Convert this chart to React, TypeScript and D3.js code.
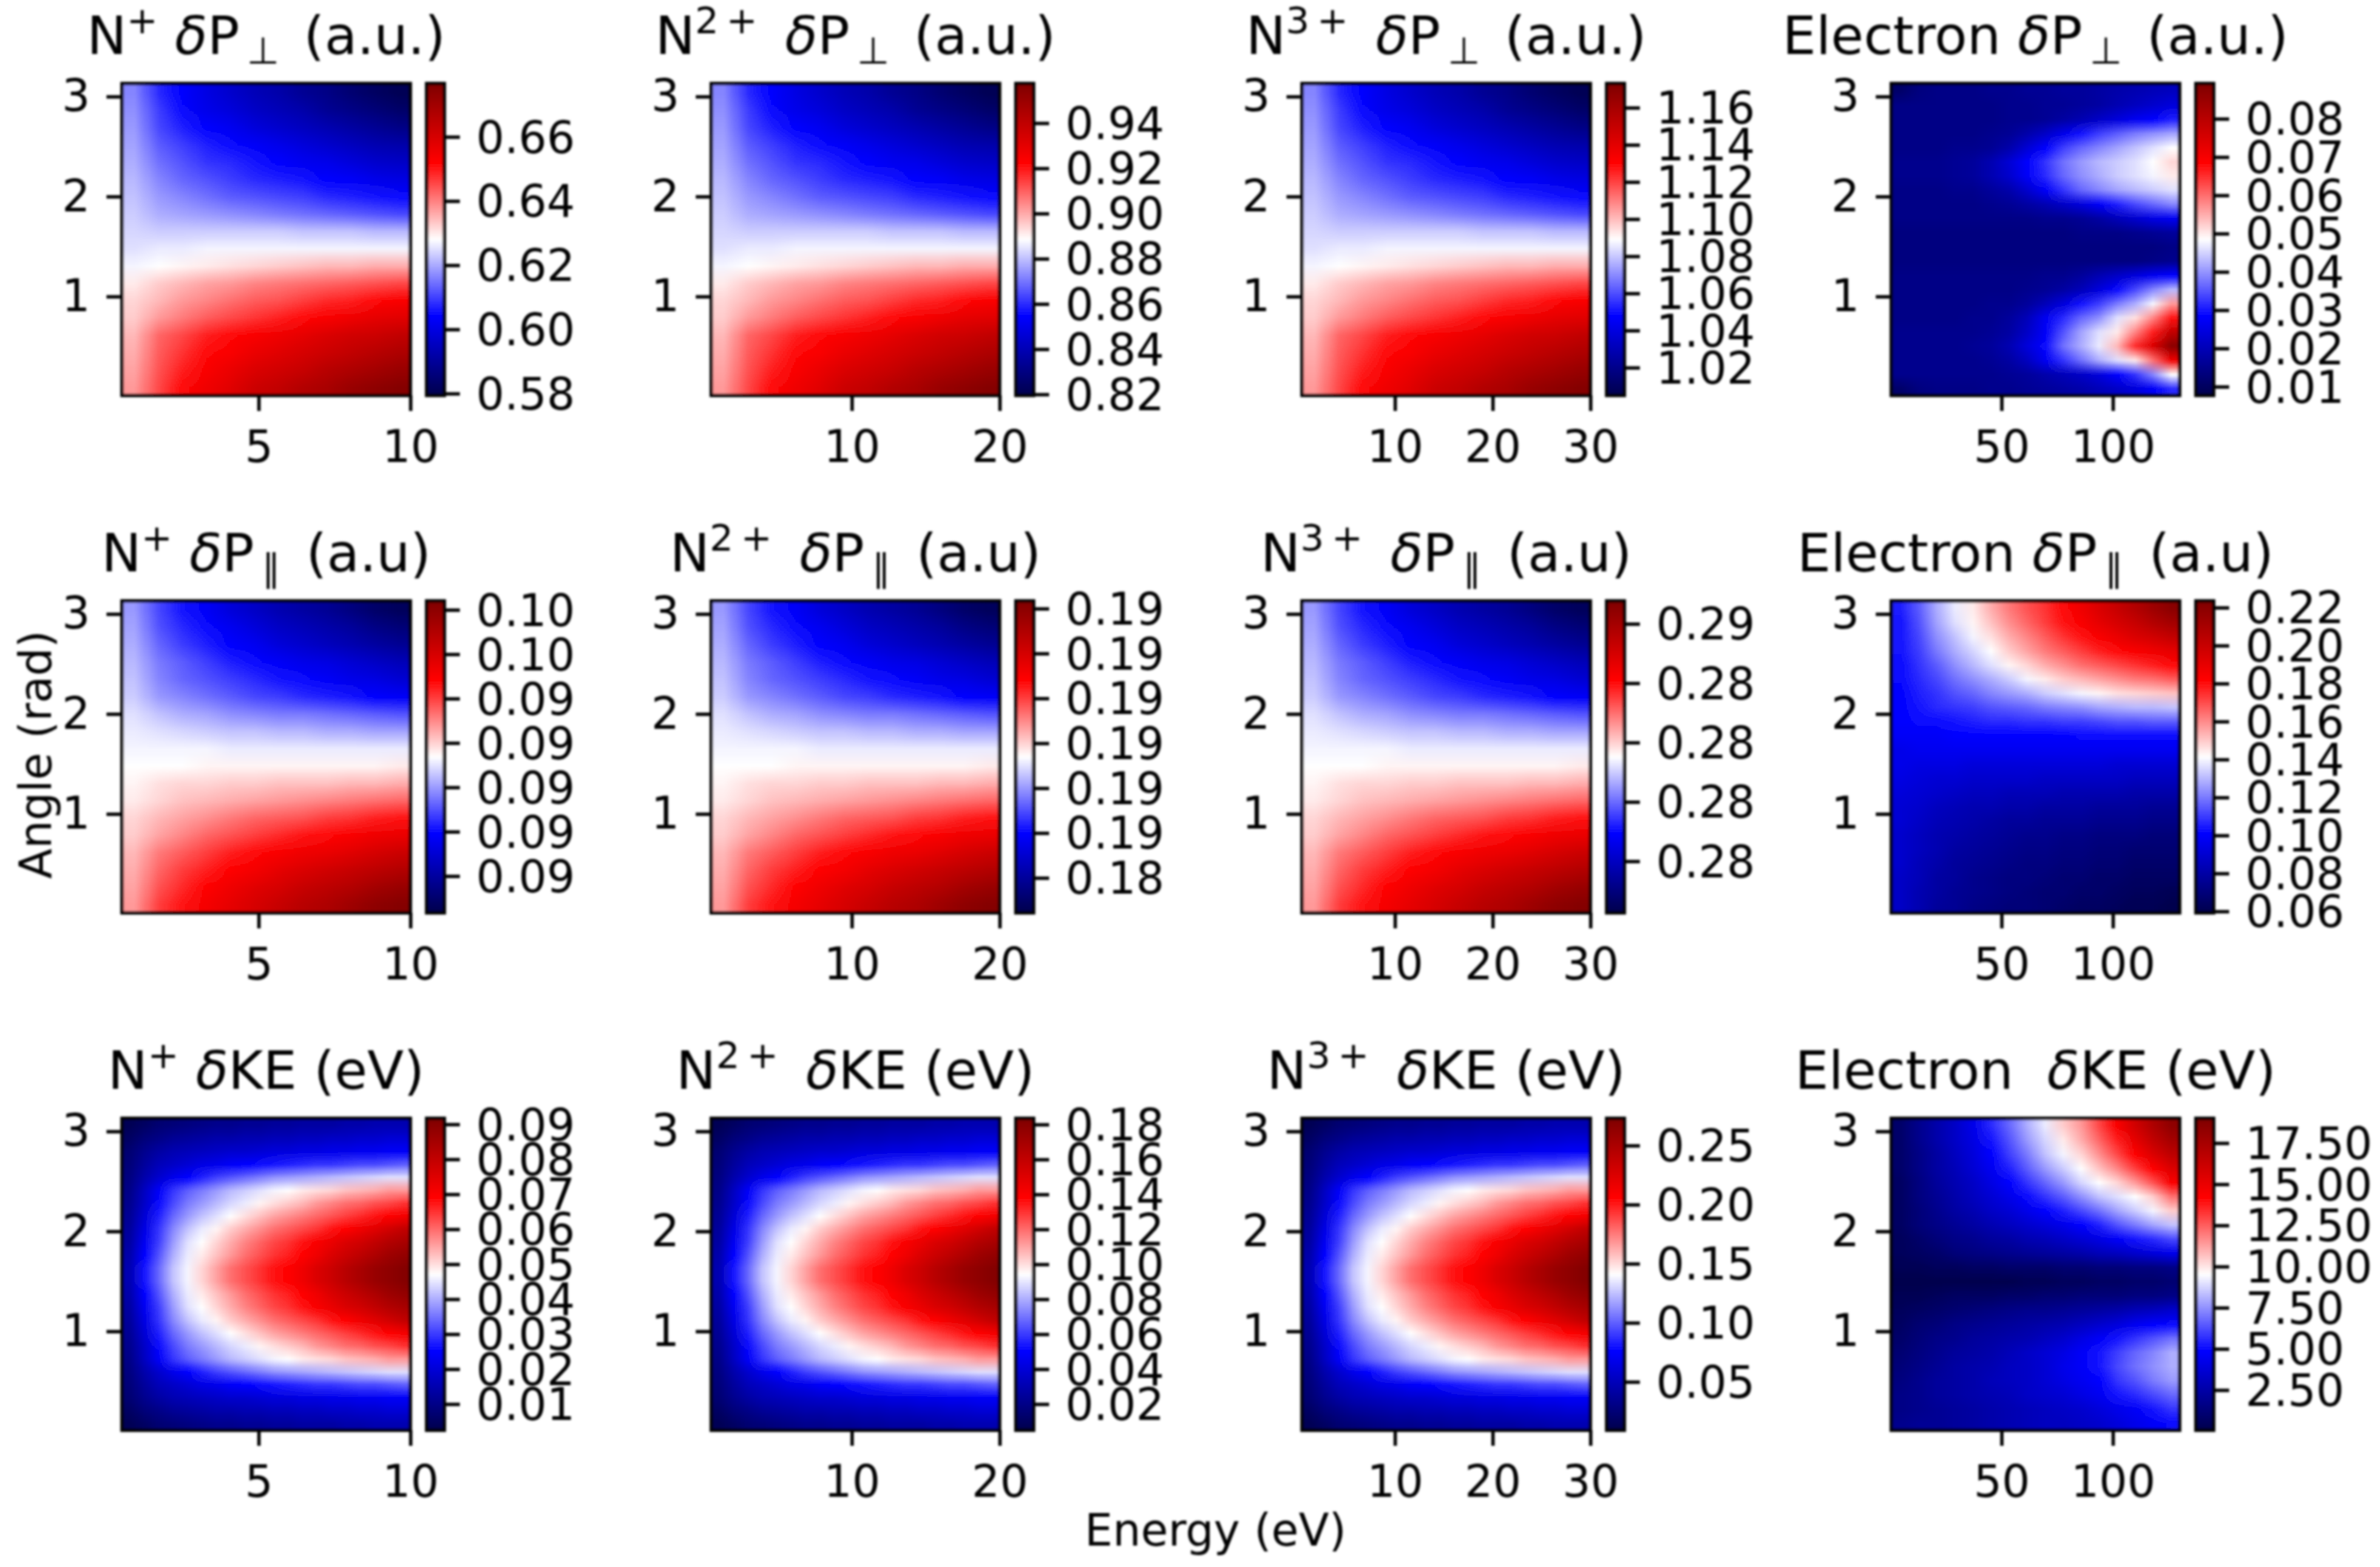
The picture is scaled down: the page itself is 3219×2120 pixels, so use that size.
import React, { useEffect, useRef } from "react";
import * as d3 from "d3";

// Colour position of each cell, in percent of that panel's colourbar range.
// Rows run from the top of the panel (angle ~ pi) to the bottom (angle ~ 0), columns from low to high energy.
const ionPerp = [
[38,29,25,21,18,15,13,10,8,5,3,1],
[39,31,26,22,20,17,15,13,10,8,6,4],
[40,32,28,25,23,20,18,16,14,12,10,8],
[41,34,31,28,26,24,22,20,18,16,14,13],
[42,36,33,30,29,27,25,23,22,20,18,17],
[43,38,35,33,31,29,28,27,25,24,22,21],
[44,40,38,36,34,33,32,31,29,28,27,26],
[45,42,41,40,39,38,37,36,35,34,33,32],
[46,45,45,45,45,45,45,44,44,44,43,43],
[47,48,48,49,49,49,49,49,49,49,49,49],
[49,50,51,52,53,54,55,56,57,57,58,58],
[52,55,57,59,60,62,63,64,65,66,67,68],
[54,57,60,62,64,66,67,69,71,72,74,76],
[55,60,63,66,68,70,72,74,76,78,80,81],
[57,65,68,72,74,76,78,80,82,84,85,87],
[58,66,70,74,76,79,81,83,85,87,89,91],
[59,67,72,76,79,82,84,86,89,91,93,95],
[60,68,74,78,81,85,87,90,92,95,97,99],
];
const ionPara = [
[40,32,27,24,20,17,14,12,10,7,4,2],
[41,33,29,26,23,20,17,15,13,11,8,6],
[42,35,31,28,25,23,20,18,16,14,12,10],
[43,37,34,31,28,26,24,22,21,19,17,15],
[44,38,35,33,31,29,27,26,24,22,21,19],
[45,40,38,36,34,32,31,29,28,27,25,24],
[47,44,42,41,39,38,37,37,36,35,34,33],
[48,47,46,45,44,44,43,43,42,42,41,41],
[49,49,49,49,48,48,48,48,48,48,48,48],
[50,50,50,51,51,51,51,51,51,51,51,52],
[51,53,54,54,55,55,56,56,56,57,57,58],
[52,54,56,57,58,59,60,61,62,63,64,65],
[54,57,59,61,63,65,66,67,69,70,72,73],
[55,59,62,65,67,69,71,73,74,76,78,79],
[57,63,66,69,72,74,76,78,79,81,83,85],
[58,65,69,72,75,77,80,82,84,86,88,90],
[59,67,71,75,78,81,83,86,88,90,93,95],
[60,69,73,77,80,83,86,89,91,94,97,99],
];
const ionKE = [
[1,3,5,6,7,8,9,9,10,10,11,11,12,12,12,13,13,14,14,14],
[3,6,8,10,11,12,13,13,14,14,15,15,16,16,17,17,18,18,19,19],
[5,9,12,14,15,16,17,18,18,19,20,20,21,21,22,22,23,23,24,24],
[6,11,15,17,19,21,22,24,25,26,27,28,29,30,30,31,32,32,33,34],
[7,13,18,22,25,28,31,33,35,37,39,40,41,42,43,44,45,46,47,47],
[8,16,24,30,34,37,40,43,45,47,49,50,52,53,54,56,57,58,60,60],
[9,17,26,32,37,40,43,46,48,51,53,55,57,60,62,64,65,67,68,70],
[10,19,28,35,40,44,47,50,53,56,59,61,63,65,67,69,71,73,75,77],
[11,21,30,38,44,48,51,55,58,61,64,66,68,70,73,75,78,81,84,87],
[12,23,31,40,47,50,54,58,62,65,68,70,73,76,79,82,84,87,90,92],
[13,25,33,42,48,52,56,60,64,67,70,72,75,78,82,85,88,91,94,96],
[14,27,35,44,49,54,59,64,67,70,73,75,78,82,85,89,92,95,97,99],
[14,27,35,44,49,54,59,64,67,70,73,75,78,82,85,89,92,95,97,99],
[13,25,33,42,48,52,56,60,64,67,70,72,75,78,82,85,88,91,94,96],
[12,23,31,40,47,50,54,58,62,65,68,70,73,76,79,82,84,87,90,92],
[11,21,30,38,44,48,51,55,58,61,64,66,68,70,73,75,78,81,84,87],
[10,19,28,35,40,44,47,50,53,56,59,61,63,65,67,69,71,73,75,77],
[9,17,26,32,37,40,43,46,48,51,53,55,57,60,62,64,65,67,68,70],
[8,16,24,30,34,37,40,43,45,47,49,50,52,53,54,56,57,58,60,60],
[7,13,18,22,25,28,31,33,35,37,39,40,41,42,43,44,45,46,47,47],
[6,11,15,17,19,21,22,24,25,26,27,28,29,30,30,31,32,32,33,34],
[5,9,12,14,15,16,17,18,18,19,20,20,21,21,22,22,23,23,24,24],
[3,6,8,10,11,12,13,13,14,14,15,15,16,16,17,17,18,18,19,19],
[1,3,5,6,7,8,9,9,10,10,11,11,12,12,12,13,13,14,14,14],
];
const electronPerp = [
[4,7,8,8,8,9,9,10,10,11,11,12,13,14,15,16],
[8,8,8,8,8,8,9,9,10,10,11,12,14,16,18,20],
[8,8,8,8,8,8,9,9,10,12,14,17,20,23,25,28],
[8,8,8,8,8,9,10,13,17,22,27,31,34,37,39,41],
[8,8,8,9,9,10,13,19,25,31,35,38,41,44,47,50],
[9,9,9,10,11,14,19,25,30,36,40,43,45,47,50,54],
[9,9,9,10,11,14,18,24,29,35,39,42,45,47,49,52],
[8,8,8,9,9,11,13,18,24,30,35,38,41,43,45,47],
[8,8,8,8,8,9,10,12,14,17,20,24,28,32,35,38],
[8,8,8,8,8,8,8,8,9,9,10,12,15,18,21,23],
[7,7,7,7,7,7,7,7,7,7,8,8,8,9,10,11],
[7,7,7,7,7,7,7,7,7,7,7,7,7,7,7,8],
[7,7,7,7,7,7,7,7,7,7,7,7,7,7,8,9],
[8,8,8,8,8,8,8,8,9,9,11,14,17,20,23,25],
[8,8,8,8,8,8,8,9,10,12,15,20,26,32,38,43],
[8,8,8,8,8,9,9,11,15,20,27,31,37,42,49,60],
[8,8,8,8,9,9,11,15,23,29,35,39,47,53,62,73],
[9,9,9,9,9,10,12,17,24,33,41,47,52,62,72,87],
[9,9,9,9,10,11,14,20,26,36,42,48,57,71,82,98],
[9,9,9,9,9,10,12,16,23,30,36,42,47,52,64,78],
[9,9,9,9,9,9,10,11,13,15,17,20,25,30,38,50],
[4,7,8,8,8,9,9,10,11,12,13,15,17,20,24,29],
];
const electronPara = [
[28,34,42,48,52,58,63,67,70,74,78,82,86,90,94,98],
[27,33,41,47,51,56,61,65,69,73,76,80,83,86,90,93],
[27,32,39,44,49,53,58,62,66,70,73,76,79,82,84,87],
[27,31,37,42,46,50,55,59,63,66,69,72,74,76,78,80],
[26,30,34,39,43,47,51,54,58,61,64,66,68,70,72,74],
[26,29,32,36,39,42,45,49,52,55,57,59,61,63,64,66],
[25,28,30,33,35,38,40,42,45,47,49,51,53,54,55,56],
[25,27,29,30,31,33,34,35,37,38,39,41,42,43,43,44],
[25,26,26,27,28,29,29,30,30,31,31,32,33,33,34,34],
[24,24,24,25,25,25,25,25,25,25,26,26,26,26,26,26],
[22,23,23,23,23,23,23,23,23,23,23,23,23,23,23,23],
[22,21,21,21,20,20,20,20,20,20,20,20,19,19,19,19],
[21,20,19,19,18,18,18,18,17,17,17,17,17,16,16,16],
[20,19,18,17,16,16,15,15,15,14,14,14,14,13,13,13],
[19,18,16,15,14,14,13,13,12,12,12,11,11,11,10,10],
[19,17,15,14,13,12,11,11,10,10,10,9,9,9,8,8],
[18,16,14,13,12,11,10,9,9,8,8,7,7,7,6,6],
[18,16,14,12,11,10,9,8,8,7,7,6,6,5,5,5],
[18,15,13,11,10,9,8,7,7,6,6,5,5,4,4,4],
[17,15,12,11,9,8,7,7,6,5,5,4,4,3,3,3],
[17,14,12,10,9,8,7,6,5,5,4,4,3,2,2,1],
[17,14,11,10,8,7,6,6,5,4,3,3,2,1,1,0],
];
const electronKE = [
[4,9,13,17,22,29,35,42,48,55,60,68,76,84,91,97],
[4,9,13,17,21,27,33,40,46,52,58,65,72,80,87,93],
[4,8,12,16,20,25,31,37,44,49,54,61,68,75,82,88],
[4,8,12,15,19,23,28,34,40,45,50,56,62,69,75,82],
[3,7,11,14,17,21,25,30,35,40,46,50,54,60,67,76],
[3,7,10,13,16,19,22,26,30,34,39,44,47,50,55,64],
[3,6,9,12,14,17,19,22,25,28,32,36,41,45,49,55],
[3,6,8,10,12,14,16,18,20,22,25,28,33,37,41,44],
[2,4,6,8,9,11,12,14,15,17,19,21,24,27,29,32],
[2,3,4,6,7,8,9,10,11,12,13,15,16,18,20,22],
[1,1,2,2,3,3,4,4,4,5,5,6,6,7,7,8],
[0,0,0,0,0,0,0,1,1,2,2,3,3,4,4,5],
[1,1,2,3,3,3,4,4,5,5,6,6,6,7,7,8],
[2,3,4,5,6,7,8,9,9,10,11,12,13,15,16,18],
[3,5,6,8,9,10,11,12,13,14,16,18,20,23,25,26],
[4,6,8,9,11,12,13,14,16,18,21,24,27,30,33,36],
[5,7,9,11,12,13,15,17,19,21,24,27,31,35,38,42],
[6,8,10,12,13,14,16,17,19,22,24,27,32,36,39,42],
[7,9,11,12,13,15,16,17,19,21,23,25,30,33,37,40],
[8,9,11,12,13,14,15,17,18,19,21,23,27,29,32,35],
[8,9,10,11,12,13,14,15,16,17,18,20,22,24,27,30],
[9,10,10,11,12,13,14,15,16,16,17,18,20,22,24,26],
];

const species = ["N^+", "N^2+", "N^3+", "Electron"];
const quantities = ["perp", "para", "ke"];
const energyDomains = [[0.5, 10], [0.5, 20], [0.5, 30], [0.5, 130]];
const energyTicks = [[5, 10], [10, 20], [10, 20, 30], [50, 100]];
const angleDomain = [0.01, 3.13];
const angleTicks = [1, 2, 3];

const perpRanges = [[0.5794, 0.6766], [0.8195, 0.9575], [1.005, 1.173], [0.0077, 0.0892]];
const paraRanges = [[0.08917, 0.0962], [0.18322, 0.19017], [0.27626, 0.28677], [0.0592, 0.2235]];
const keRanges = [[0.0025, 0.0917], [0.005, 0.1835], [0.009, 0.273], [0.055, 19.0]];

const perpTicks = [
  [0.58, 0.6, 0.62, 0.64, 0.66],
  [0.82, 0.84, 0.86, 0.88, 0.9, 0.92, 0.94],
  [1.02, 1.04, 1.06, 1.08, 1.1, 1.12, 1.14, 1.16],
  [0.01, 0.02, 0.03, 0.04, 0.05, 0.06, 0.07, 0.08],
];
const perpLabels = [
  ["0.58", "0.60", "0.62", "0.64", "0.66"],
  ["0.82", "0.84", "0.86", "0.88", "0.90", "0.92", "0.94"],
  ["1.02", "1.04", "1.06", "1.08", "1.10", "1.12", "1.14", "1.16"],
  ["0.01", "0.02", "0.03", "0.04", "0.05", "0.06", "0.07", "0.08"],
];
const paraTicks = [
  [0.09, 0.091, 0.092, 0.093, 0.094, 0.095, 0.096],
  [0.184, 0.185, 0.186, 0.187, 0.188, 0.189, 0.19],
  [0.278, 0.28, 0.282, 0.284, 0.286],
  [0.06, 0.08, 0.1, 0.12, 0.14, 0.16, 0.18, 0.2, 0.22],
];
const paraLabels = [
  ["0.09", "0.09", "0.09", "0.09", "0.09", "0.10", "0.10"],
  ["0.18", "0.19", "0.19", "0.19", "0.19", "0.19", "0.19"],
  ["0.28", "0.28", "0.28", "0.28", "0.29"],
  ["0.06", "0.08", "0.10", "0.12", "0.14", "0.16", "0.18", "0.20", "0.22"],
];
const keTicks = [
  [0.01, 0.02, 0.03, 0.04, 0.05, 0.06, 0.07, 0.08, 0.09],
  [0.02, 0.04, 0.06, 0.08, 0.1, 0.12, 0.14, 0.16, 0.18],
  [0.05, 0.1, 0.15, 0.2, 0.25],
  [2.5, 5, 7.5, 10, 12.5, 15, 17.5],
];
const keLabels = [
  ["0.01", "0.02", "0.03", "0.04", "0.05", "0.06", "0.07", "0.08", "0.09"],
  ["0.02", "0.04", "0.06", "0.08", "0.10", "0.12", "0.14", "0.16", "0.18"],
  ["0.05", "0.10", "0.15", "0.20", "0.25"],
  ["2.50", "5.00", "7.50", "10.00", "12.50", "15.00", "17.50"],
];

const grids = {
  perp: [ionPerp, ionPerp, ionPerp, electronPerp],
  para: [ionPara, ionPara, ionPara, electronPara],
  ke: [ionKE, ionKE, ionKE, electronKE],
};
const ranges = { perp: perpRanges, para: paraRanges, ke: keRanges };
const cbTicks = { perp: perpTicks, para: paraTicks, ke: keTicks };
const cbLabels = { perp: perpLabels, para: paraLabels, ke: keLabels };

const WIDTH = 3219;
const HEIGHT = 2120;
const FONT = "'DejaVu Sans'";
const TICK_FS = 60;
const TITLE_FS = 72;
const colLeft = [165, 962, 1761, 2558];
const rowTop = [113, 813, 1513];
const AX_W = 390;
const AX_H = 422;
const CB_GAP = 412;
const CB_W = 24;
const LW = 4.6;

const seismic = d3
  .scaleLinear<string>()
  .domain([0, 0.25, 0.5, 0.75, 1])
  .range(["#00004d", "#0000ff", "#ffffff", "#ff0000", "#800000"]);

function gridImage(rows: number[][], toColour: (v: number) => string) {
  const h = rows.length;
  const w = rows[0].length;
  const c = document.createElement("canvas");
  c.width = w;
  c.height = h;
  const g = c.getContext("2d")!;
  rows.forEach((row, i) =>
    row.forEach((v, j) => {
      g.fillStyle = toColour(v);
      g.fillRect(j, i, 1, 1);
    })
  );
  return c.toDataURL("image/png");
}

function drawTitle(
  root: d3.Selection<SVGGElement, unknown, null, undefined>,
  cx: number,
  y: number,
  sp: string,
  q: string
) {
  const t = root
    .append("text")
    .attr("x", cx)
    .attr("y", y)
    .attr("text-anchor", "middle")
    .attr("font-family", FONT)
    .attr("font-size", TITLE_FS)
    .style("white-space", "pre");
  const small = TITLE_FS * 0.7;
  const up = 28;
  const down = 13;
  if (sp === "Electron") {
    t.append("tspan").text(q === "ke" ? "Electron  " : "Electron ");
  } else {
    t.append("tspan").text("N");
    const s = sp.split("^")[1];
    t.append("tspan")
      .attr("dy", -up)
      .attr("font-size", small)
      .text(s.length > 1 ? `${s[0]}\u2009+` : s);
    t.append("tspan").attr("dy", up).text(s.length > 1 ? " \u2009" : " ");
  }
  t.append("tspan").attr("font-style", "italic").text("\u03b4");
  if (q === "ke") {
    t.append("tspan").text("KE (eV)");
  } else {
    t.append("tspan").text("P");
    t.append("tspan")
      .attr("dx", 10)
      .attr("dy", down)
      .attr("font-size", small)
      .text(q === "perp" ? "\u22a5" : "\u2225");
    t.append("tspan")
      .attr("dx", q === "perp" ? 33 : 35)
      .attr("dy", -down)
      .text(q === "perp" ? "(a.u.)" : "(a.u)");
  }
}

function styleAxis(g: d3.Selection<SVGGElement, unknown, null, undefined>) {
  g.attr("font-family", FONT).attr("font-size", TICK_FS);
  g.select(".domain").remove();
  g.selectAll(".tick line").attr("stroke", "#000").attr("stroke-width", LW);
  g.selectAll(".tick text").attr("fill", "#000");
}

export default function App() {
  const ref = useRef<SVGGElement>(null);
  useEffect(() => {
    const root = d3.select(ref.current!) as d3.Selection<SVGGElement, unknown, null, undefined>;
    root.selectAll("*").remove();
    quantities.forEach((q, r) => {
      species.forEach((sp, c) => {
        const left = colLeft[c];
        const top = rowTop[r];
        const x = d3.scaleLinear().domain(energyDomains[c]).range([left, left + AX_W]);
        const y = d3.scaleLinear().domain(angleDomain).range([top + AX_H, top]);
        const [vmin, vmax] = ranges[q][c];
        const fromPercent = d3.scaleLinear().domain([0, 100]).range([vmin, vmax]);
        const norm = d3.scaleLinear().domain([vmin, vmax]).range([0, 1]);
        const toColour = (pct: number) => seismic(norm(fromPercent(pct)));

        const rows = grids[q][c].map((row: number[]) => row.slice());
        root
          .append("image")
          .attr("x", x.range()[0])
          .attr("y", y.range()[1])
          .attr("width", x.range()[1] - x.range()[0])
          .attr("height", y.range()[0] - y.range()[1])
          .attr("preserveAspectRatio", "none")
          .attr("href", gridImage(rows, toColour));
        root
          .append("rect")
          .attr("x", left)
          .attr("y", top)
          .attr("width", AX_W)
          .attr("height", AX_H)
          .attr("fill", "none")
          .attr("stroke", "#000")
          .attr("stroke-width", LW);

        const xa = root.append("g").attr("transform", `translate(0,${top + AX_H})`);
        xa.call(d3.axisBottom(x).tickValues(energyTicks[c]).tickSize(21).tickPadding(26).tickFormat(d3.format("d")) as any);
        styleAxis(xa);
        const ya = root.append("g").attr("transform", `translate(${left},0)`);
        ya.call(d3.axisLeft(y).tickValues(angleTicks).tickSize(21).tickPadding(22).tickFormat(d3.format("d")) as any);
        styleAxis(ya);

        // colourbar
        const cbLeft = left + CB_GAP;
        const cbY = d3.scaleLinear().domain([vmin, vmax]).range([top + AX_H, top]);
        const ramp = d3.range(255, -1, -1).map((i) => [i / 2.55]);
        root
          .append("image")
          .attr("x", cbLeft)
          .attr("y", top)
          .attr("width", CB_W)
          .attr("height", AX_H)
          .attr("preserveAspectRatio", "none")
          .attr("href", gridImage(ramp, toColour));
        root
          .append("rect")
          .attr("x", cbLeft)
          .attr("y", top)
          .attr("width", CB_W)
          .attr("height", AX_H)
          .attr("fill", "none")
          .attr("stroke", "#000")
          .attr("stroke-width", LW);
        const labels = cbLabels[q][c];
        const tv = cbTicks[q][c];
        const ca = root.append("g").attr("transform", `translate(${cbLeft + CB_W},0)`);
        ca.call(
          d3
            .axisRight(cbY)
            .tickValues(tv)
            .tickSize(21)
            .tickPadding(22)
            .tickFormat((_: any, i: number) => labels[i]) as any
        );
        styleAxis(ca);
        ca.selectAll(".tick text").attr("dy", "0.35em");

        drawTitle(root, left + AX_W / 2, top - 40, sp, q);
      });
    });

    root
      .append("text")
      .attr("x", 1644)
      .attr("y", 2091)
      .attr("text-anchor", "middle")
      .attr("font-family", FONT)
      .attr("font-size", TICK_FS)
      .text("Energy (eV)");
    root
      .append("text")
      .attr("transform", "translate(69,1021) rotate(-90)")
      .attr("text-anchor", "middle")
      .attr("font-family", FONT)
      .attr("font-size", TICK_FS)
      .text("Angle (rad)");
  }, []);

  return (
    <svg
      width={WIDTH}
      height={HEIGHT}
      viewBox={`0 0 ${WIDTH} ${HEIGHT}`}
      style={{ position: "absolute", left: 0, top: 0, display: "block", background: "#fff" }}
    >
      <defs>
        <filter id="soft" x="0" y="0" width="100%" height="100%" filterUnits="userSpaceOnUse" primitiveUnits="userSpaceOnUse">
          <feGaussianBlur stdDeviation="1.4" />
        </filter>
      </defs>
      <g ref={ref} filter="url(#soft)" />
    </svg>
  );
}
